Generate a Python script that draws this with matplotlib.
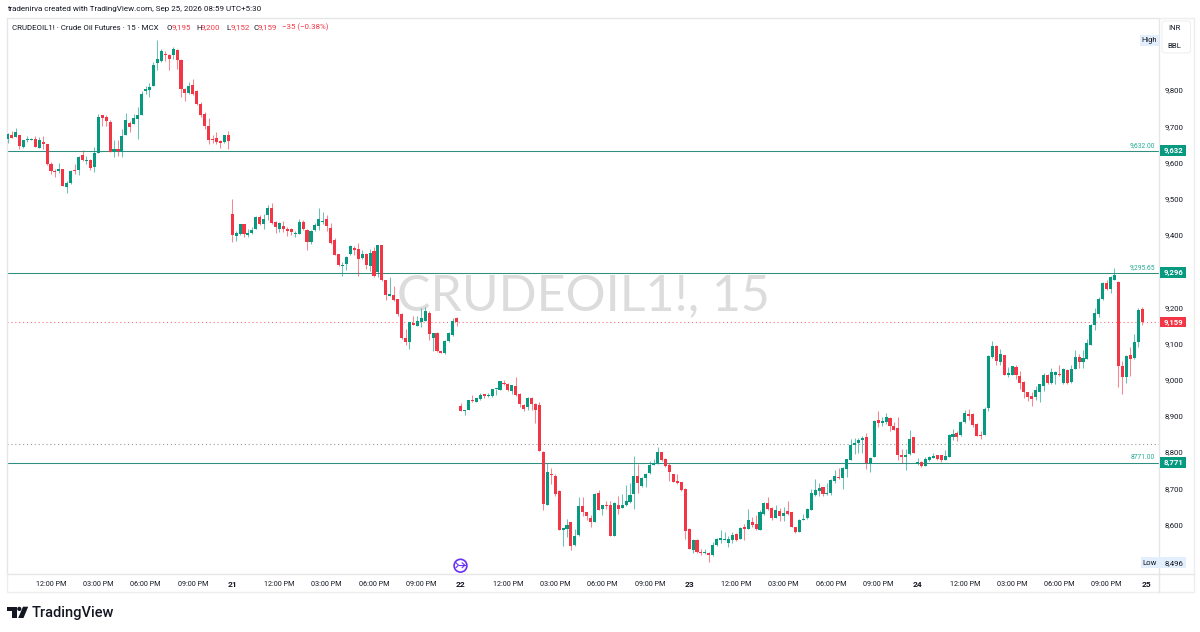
import matplotlib
matplotlib.use("Agg")
import matplotlib.pyplot as plt
from matplotlib.patches import Circle, FancyBboxPatch, Polygon, Rectangle
from matplotlib.transforms import blended_transform_factory

plt.rcParams["font.family"] = ["Roboto", "DejaVu Sans"]

GREEN = "#089981"
RED = "#F23645"
TEXT = "#131722"
BORDER = "#e6e6e8"
W, H = 1200, 632

# 15 minute bars, one row per session
opens = [
    9665, 9676, 9671, 9676, 9642, 9661, 9662, 9664, 9640, 9657, 9650, 9595, 9577, 9575, 9581, 9532, 9543, 9578, 9578,
    9620, 9603, 9607, 9587, 9626, 9730, 9725, 9713, 9630, 9638, 9630, 9675, 9710, 9705, 9721, 9730, 9797, 9801, 9812,
    9876, 9881, 9900, 9897, 9898, 9911, 9884, 9802, 9793, 9813, 9797, 9762, 9734, 9702, 9664, 9668, 9659, 9656, 9677,
    # 21
    9457, 9397, 9402, 9430, 9400, 9405, 9417, 9448, 9429, 9454, 9473, 9436, 9417, 9424, 9415, 9415, 9403, 9402, 9436,
    9413, 9380, 9413, 9425, 9436, 9443, 9420, 9387, 9347, 9313, 9319, 9346, 9364, 9362, 9336, 9348, 9315, 9354, 9297,
    9373, 9274, 9232, 9235, 9222, 9181, 9114, 9105, 9157, 9148, 9159, 9163, 9185, 9115, 9130, 9079, 9074, 9106, 9122,
    9170,
    # 22
    8927, 8914, 8916, 8943, 8938, 8947, 8960, 8954, 8954, 8973, 8971, 8992, 8987, 8969, 8982, 8960, 8929, 8923, 8948,
    8934, 8929, 8800, 8655, 8739, 8735, 8691, 8585, 8587, 8606, 8542, 8570, 8651, 8633, 8618, 8608, 8687, 8642, 8655,
    8654, 8568, 8654, 8646, 8654, 8661, 8684, 8735, 8707, 8727, 8741, 8765, 8769, 8799, 8780, 8764, 8739, 8719, 8716,
    8699,
    # 23
    8587, 8530, 8558, 8525, 8520, 8522, 8516, 8542, 8558, 8558, 8550, 8556, 8573, 8561, 8592, 8588, 8608, 8600, 8585,
    8629, 8660, 8644, 8619, 8637, 8623, 8636, 8634, 8592, 8579, 8612, 8617, 8640, 8681, 8693, 8702, 8683, 8687, 8720,
    8731, 8729, 8752, 8779, 8820, 8824, 8833, 8841, 8766, 8787, 8889, 8881, 8884, 8894, 8871, 8866, 8792, 8785, 8794,
    8841,
    # 24
    8767, 8773, 8762, 8778, 8784, 8791, 8792, 8778, 8787, 8842, 8853, 8846, 8882, 8905, 8905, 8877, 8848, 8847, 8921,
    9063, 9094, 9050, 9068, 9014, 9014, 9034, 9011, 8994, 8966, 8955, 8953, 8967, 8983, 9012, 8991, 9012, 9015, 8991,
    9026, 8993, 9030, 9062, 9048, 9057, 9096, 9150, 9180, 9224, 9267, 9249, 9276, 9271, 9039, 9007, 9069, 9059, 9103,
    9195,
]
highs = [
    9681, 9687, 9694, 9677, 9663, 9672, 9668, 9672, 9670, 9672, 9652, 9601, 9583, 9598, 9583, 9550, 9578, 9595, 9617,
    9633, 9619, 9610, 9642, 9733, 9732, 9730, 9716, 9661, 9661, 9693, 9736, 9714, 9734, 9753, 9797, 9812, 9819, 9877,
    9937, 9914, 9909, 9900, 9918, 9913, 9886, 9806, 9822, 9831, 9801, 9767, 9739, 9723, 9675, 9684, 9663, 9677, 9687,
    # 21
    9498, 9411, 9431, 9431, 9417, 9422, 9451, 9454, 9457, 9483, 9489, 9438, 9436, 9437, 9422, 9420, 9411, 9445, 9442,
    9415, 9413, 9433, 9475, 9463, 9454, 9433, 9390, 9348, 9325, 9341, 9373, 9369, 9378, 9357, 9350, 9362, 9365, 9373,
    9373, 9275, 9284, 9258, 9224, 9183, 9141, 9160, 9176, 9177, 9199, 9201, 9190, 9129, 9132, 9080, 9109, 9132, 9169,
    9172,
    # 22
    8936, 8917, 8945, 8957, 8950, 8962, 8961, 8963, 8975, 8975, 8997, 9000, 8992, 8986, 9006, 8963, 8934, 8951, 8951,
    8936, 8937, 8802, 8769, 8755, 8739, 8694, 8591, 8614, 8607, 8587, 8675, 8677, 8634, 8626, 8686, 8695, 8655, 8666,
    8666, 8662, 8678, 8684, 8709, 8715, 8789, 8767, 8732, 8743, 8776, 8782, 8813, 8801, 8783, 8769, 8740, 8739, 8718,
    8701,
    # 23
    8589, 8559, 8561, 8532, 8532, 8524, 8551, 8562, 8585, 8578, 8568, 8579, 8576, 8594, 8601, 8643, 8620, 8626, 8640,
    8662, 8677, 8647, 8653, 8645, 8647, 8664, 8635, 8594, 8614, 8630, 8645, 8698, 8725, 8715, 8703, 8714, 8726, 8749,
    8755, 8758, 8781, 8836, 8838, 8840, 8844, 8852, 8785, 8888, 8913, 8898, 8907, 8896, 8883, 8896, 8807, 8807, 8861,
    8842,
    # 24
    8783, 8775, 8785, 8789, 8798, 8793, 8793, 8806, 8850, 8863, 8858, 8886, 8916, 8919, 8907, 8879, 8859, 8925, 9069,
    9106, 9095, 9085, 9069, 9034, 9039, 9040, 9023, 8997, 8966, 8966, 8982, 8989, 9019, 9015, 9032, 9024, 9041, 9032,
    9028, 9040, 9083, 9070, 9081, 9111, 9153, 9198, 9227, 9269, 9276, 9286, 9308, 9272, 9052, 9068, 9091, 9127, 9198,
    9200,
]
lows = [
    9653, 9668, 9670, 9638, 9641, 9656, 9661, 9642, 9640, 9638, 9594, 9569, 9560, 9571, 9534, 9516, 9541, 9569, 9566,
    9604, 9596, 9578, 9573, 9626, 9702, 9702, 9630, 9615, 9617, 9615, 9675, 9684, 9705, 9664, 9730, 9790, 9780, 9810,
    9854, 9877, 9881, 9854, 9886, 9858, 9780, 9771, 9790, 9785, 9760, 9725, 9693, 9652, 9653, 9652, 9641, 9654, 9638,
    # 21
    9380, 9383, 9400, 9394, 9394, 9402, 9416, 9426, 9417, 9442, 9431, 9405, 9409, 9408, 9397, 9399, 9393, 9402, 9413,
    9359, 9376, 9411, 9413, 9431, 9411, 9376, 9343, 9314, 9287, 9302, 9344, 9344, 9287, 9332, 9305, 9300, 9283, 9284,
    9273, 9220, 9231, 9218, 9177, 9113, 9095, 9085, 9150, 9147, 9145, 9163, 9109, 9080, 9077, 9073, 9072, 9105, 9121,
    9148,
    # 22
    8914, 8902, 8916, 8939, 8937, 8945, 8949, 8952, 8952, 8957, 8971, 8985, 8969, 8960, 8956, 8925, 8914, 8917, 8916,
    8879, 8802, 8640, 8654, 8713, 8678, 8584, 8539, 8566, 8529, 8541, 8569, 8623, 8612, 8594, 8607, 8640, 8626, 8642,
    8568, 8568, 8630, 8645, 8651, 8660, 8643, 8686, 8704, 8704, 8739, 8764, 8767, 8776, 8759, 8720, 8716, 8712, 8693,
    8560,
    # 23
    8532, 8522, 8522, 8516, 8519, 8496, 8513, 8541, 8548, 8557, 8537, 8550, 8555, 8559, 8557, 8587, 8594, 8585, 8584,
    8627, 8641, 8611, 8618, 8610, 8609, 8626, 8593, 8577, 8578, 8611, 8616, 8639, 8679, 8679, 8679, 8680, 8680, 8715,
    8726, 8697, 8730, 8778, 8795, 8796, 8798, 8752, 8746, 8786, 8868, 8872, 8877, 8859, 8861, 8778, 8769, 8750, 8793,
    8796,
    # 24
    8764, 8759, 8761, 8775, 8783, 8778, 8772, 8777, 8786, 8833, 8831, 8845, 8881, 8888, 8870, 8844, 8837, 8847, 8914,
    9061, 9040, 9041, 9013, 9007, 9012, 9003, 8973, 8948, 8942, 8928, 8943, 8939, 8968, 8988, 8989, 8988, 9010, 8989,
    8989, 8991, 9028, 9031, 9031, 9056, 9095, 9138, 9173, 9221, 9247, 9238, 9274, 8980, 8961, 8992, 9010, 9058, 9090,
    9152,
]
closes = [
    9678, 9668, 9683, 9645, 9661, 9665, 9666, 9642, 9663, 9650, 9595, 9575, 9573, 9581, 9535, 9543, 9576, 9576, 9615,
    9606, 9607, 9584, 9626, 9726, 9723, 9714, 9630, 9637, 9632, 9672, 9716, 9698, 9723, 9730, 9790, 9802, 9808, 9870,
    9887, 9907, 9897, 9887, 9913, 9883, 9803, 9793, 9811, 9788, 9762, 9730, 9702, 9661, 9661, 9656, 9654, 9675, 9658,
    # 21
    9399, 9404, 9430, 9402, 9405, 9413, 9448, 9429, 9443, 9473, 9433, 9422, 9433, 9416, 9410, 9408, 9405, 9436, 9417,
    9379, 9411, 9426, 9444, 9437, 9424, 9378, 9345, 9318, 9317, 9339, 9369, 9357, 9334, 9346, 9318, 9350, 9285, 9371,
    9274, 9233, 9237, 9220, 9180, 9115, 9104, 9158, 9151, 9163, 9170, 9190, 9127, 9128, 9079, 9074, 9106, 9129, 9163,
    9158,
    # 22
    8914, 8916, 8943, 8940, 8949, 8957, 8954, 8957, 8973, 8975, 8996, 8987, 8971, 8985, 8957, 8934, 8920, 8949, 8933,
    8916, 8803, 8656, 8745, 8736, 8684, 8585, 8590, 8598, 8539, 8568, 8650, 8634, 8623, 8607, 8684, 8641, 8654, 8652,
    8568, 8658, 8643, 8654, 8664, 8682, 8735, 8714, 8728, 8740, 8765, 8769, 8800, 8778, 8762, 8744, 8718, 8714, 8695,
    8583,
    # 23
    8533, 8556, 8524, 8520, 8523, 8516, 8544, 8561, 8562, 8560, 8559, 8572, 8556, 8590, 8586, 8612, 8599, 8586, 8634,
    8660, 8643, 8619, 8639, 8623, 8632, 8630, 8594, 8580, 8611, 8616, 8643, 8686, 8695, 8701, 8683, 8686, 8723, 8735,
    8728, 8755, 8780, 8819, 8826, 8833, 8840, 8769, 8784, 8886, 8879, 8887, 8896, 8871, 8862, 8792, 8785, 8792, 8836,
    8797,
    # 24
    8772, 8760, 8781, 8787, 8789, 8780, 8778, 8790, 8848, 8850, 8842, 8884, 8909, 8900, 8875, 8845, 8844, 8919, 9066,
    9092, 9052, 9072, 9014, 9019, 9037, 9012, 8991, 8967, 8953, 8947, 8971, 8987, 9012, 8991, 9022, 9022, 9012, 9030,
    8991, 9028, 9062, 9048, 9061, 9100, 9150, 9183, 9224, 9267, 9250, 9283, 9289, 9037, 9006, 9066, 9058, 9104, 9192,
    9159,
]

# 9,300 is hidden behind the 9,296 tag on the real scale
price_ticks = [8600, 8700, 8800, 8900, 9000, 9100, 9200, 9400, 9500, 9600, 9700, 9800]
level_prices = [9632.00, 9295.65, 8771.00]
level_labels = ["9,632.00", "9,295.65", "8771.00"]
level_tags = ["9,632", "9,296", "8,771"]
last_price = 9159
prev_close = 8822
day_low = 8496

first_session_len = 57
session_len = 58
day_labels = ["21", "22", "23", "24", "25"]
time_labels = ["12:00 PM", "03:00 PM", "06:00 PM", "09:00 PM"]
time_offsets = [12, 24, 36, 48]

fig = plt.figure(figsize=(W / 100, H / 100), dpi=100, facecolor="white")


def px_axes(x0, y0, x1, y1):
    return fig.add_axes([x0 / W, 1 - y1 / H, (x1 - x0) / W, (y1 - y0) / H])


ax = px_axes(6.5, 18, 1159, 574)
ax.set_xlim(-0.3, 292.3)
ax.set_ylim(8463, 9999)

# candles
for i, (o, h, l, c) in enumerate(zip(opens, highs, lows, closes)):
    col = GREEN if c >= o else RED
    ax.vlines(i, l, h, color=col, lw=0.75, alpha=0.6, zorder=3)
    ax.bar(i, max(abs(c - o), 2.5), bottom=min(o, c), width=0.78, color=col, lw=0, zorder=4)

# levels
for p in level_prices:
    ax.axhline(p, color="#2f8f7e", lw=0.75, zorder=2)
ax.axhline(last_price, color=RED, lw=0.8, ls=(0, (1, 2.5)), alpha=0.7, zorder=2)
ax.axhline(prev_close, color="#9598a1", lw=0.8, ls=(0, (1, 2.5)), zorder=2)

# time axis
positions, labels = [], []
start = first_session_len - session_len
for d in range(len(day_labels)):
    for off, lab in zip(time_offsets, time_labels):
        positions.append(start + off)
        labels.append(lab)
    positions.append(start + session_len)
    labels.append(day_labels[d])
    start += session_len
ax.set_xticks(positions)
ax.set_xticklabels(labels)
for t in ax.get_xticklabels():
    t.set_fontweight("bold" if len(t.get_text()) == 2 else "normal")
    t.set_fontsize(6.0 if len(t.get_text()) == 2 else 5.2)
ax.tick_params(axis="x", length=0, pad=5, colors=TEXT)

# price axis
ax.yaxis.tick_right()
ax.set_yticks(price_ticks)
ax.set_yticklabels([f"{p:,}" for p in price_ticks])
ax.tick_params(axis="y", length=0, labelsize=5.6, pad=4, colors=TEXT)

for s in ax.spines.values():
    s.set_color(BORDER)
    s.set_linewidth(1.0)

# overlay in pixel coordinates for the chart furniture
ov = fig.add_axes([0, 0, 1, 1], zorder=5)
ov.set_xlim(0, W)
ov.set_ylim(H, 0)
ov.axis("off")

ov.plot([1159, 1193.5, 1193.5, 6.5, 6.5], [18, 18, 592, 592, 574], color="#eeeeef", lw=1)
ov.plot([1159, 1193.5], [574, 574], color=BORDER, lw=1)
ov.plot([1159, 1159], [574, 592], color=BORDER, lw=1)

# watermark sits behind the candles
ax.text(583, 296, "CRUDEOIL1!, 15", transform=ov.transData, ha="center", va="center",
        fontsize=36, color="#dcdcdc", zorder=1, family=["Lato"])

ov.text(7, 9, "tradenirva created with TradingView.com, Sep 25, 2026 08:59 UTC+5:30",
        fontsize=5.8, color=TEXT, va="center")
ov.text(12, 27.5, "CRUDEOIL1! · Crude Oil Futures · 15 · MCX", fontsize=5.7, color=TEXT, va="center")
for x, k, v in [(166.7, "O", "9,195"), (196, "H", "9,200"), (226, "L", "9,152"), (253, "C", "9,159")]:
    ov.text(x, 27.5, k, fontsize=5.7, color=TEXT, va="center")
    ov.text(x + 5, 27.5, v, fontsize=5.7, color=RED, va="center")
ov.text(282, 27.5, "−35 (−0.38%)", fontsize=5.7, color=RED, va="center")

# unit box
ov.add_patch(FancyBboxPatch((1163, 22), 26.5, 30, boxstyle="round,pad=1,rounding_size=3",
                            fc="white", ec="#eeeff3", lw=0.8))
ov.text(1174, 28.5, "INR", fontsize=5.6, color=TEXT, ha="center", va="center")
ov.text(1174, 45.5, "BBL", fontsize=5.6, color=TEXT, ha="center", va="center")

# level labels and tags on the price scale
tag_tr = blended_transform_factory(ov.transData, ax.transData)
for p, lab, tag in zip(level_prices, level_labels, level_tags):
    ov.text(1155, p + 15, lab, transform=tag_tr, fontsize=4.8, color="#22ab94", ha="right", va="center")
    ov.add_patch(Rectangle((1160, p - 15), 26, 30, transform=tag_tr, fc=GREEN, ec="none"))
    ov.text(1173, p, tag, transform=tag_tr, fontsize=5.6, color="white", fontweight="bold", ha="center", va="center")
ov.add_patch(Rectangle((1160, last_price - 15), 26, 30, transform=tag_tr, fc=RED, ec="none"))
ov.text(1173, last_price, f"{last_price:,}", transform=tag_tr, fontsize=5.6, color="white", fontweight="bold",
        ha="center", va="center")

# high / low labels
ov.add_patch(Rectangle((1140, 35), 19, 10.7, fc="#e3effd", ec="none"))
ov.text(1149.5, 40.3, "High", fontsize=5.4, color=TEXT, ha="center", va="center")
ov.add_patch(Rectangle((1141, 557), 45, 11, fc="#e3effd", ec="none"))
ov.text(1150, 562.7, "Low", fontsize=5.6, color=TEXT, ha="center", va="center")
ov.text(1174, 562.7, f"{day_low:,}", fontsize=5.6, color=TEXT, ha="center", va="center")

# session marker
ov.add_patch(Circle((460.5, 565.7), 6.4, fc="white", ec="#6a2ff7", lw=1.2))
ov.plot([456, 458.5, 456], [562.8, 565.2, 567.6], color="#6a2ff7", lw=0.8)
ov.plot([458.5, 464.8], [565.2, 565.2], color="#6a2ff7", lw=0.8)
ov.plot([462.2, 464.8, 462.2], [562.8, 565.2, 567.6], color="#6a2ff7", lw=0.8)

# logo
ov.add_patch(Polygon([(7.3, 606.7), (16.5, 606.7), (16.5, 618), (12, 618), (12, 611), (7.3, 611)], fc=TEXT, ec="none"))
ov.add_patch(Circle((19.3, 608.9), 2.1, fc=TEXT, ec="none"))
ov.add_patch(Polygon([(23, 606.7), (28.2, 606.7), (23.5, 618), (18.2, 618)], fc=TEXT, ec="none"))
ov.text(32, 612.5, "TradingView", fontsize=10.5, color=TEXT, fontweight="medium", va="center")

fig.savefig("out.png", dpi=100)
